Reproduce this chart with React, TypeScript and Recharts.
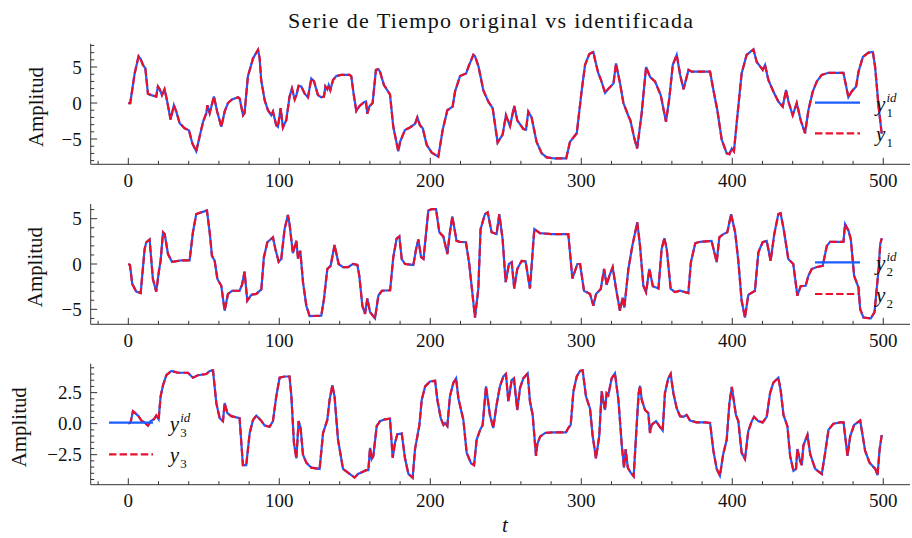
import React from 'react';
import { LineChart, Line, XAxis, YAxis } from 'recharts';

// ---------------- data ----------------
// [t, value] pairs for the original series of each output
const y1Series: [number, number][] = [
  [0, 0], [1.3, 0], [4.2, 4.1], [6.8, 6.5], [8.2, 6.1], [9.7, 5.3], [11.3, 4.8], [13, 1.3], [15.2, 1.1],
  [18.5, 0.9], [19.6, 2.3], [20.8, 1.9], [22.3, 1.1], [24, 1.9], [25.6, 0.4], [28, -2.3], [30.2, -0.3],
  [31.8, -1.2], [34, -2.8], [37.3, -3.5], [40.2, -3.8], [42.4, -5.6], [45, -6.7], [47.2, -4.7], [49.5, -2.6],
  [51.7, -1.4], [52.4, -0.3], [53.9, -1.4], [56.7, 0.9], [58.9, -1.2], [61.6, -3.3], [63.8, -1.2], [66, 0],
  [68.7, 0.5], [72.7, 0.8], [73.8, 0.6], [76, -1.7], [77, -1.4], [79.2, 3.7], [82.6, 6.2], [85.9, 7.4],
  [87, 6.2], [88, 3.2], [90.3, 0.4], [92.5, -1.0], [94.7, -1.7], [95.8, -1.2], [98, -3.1], [99.1, -3.3],
  [100.9, -0.7], [102.4, -3.4], [104.6, -2.4], [106.8, 0.9], [108.4, 2.0], [110.2, 0.5], [111.3, 1.1],
  [112.8, 2.4], [114.6, 2.3], [116.8, 1.3], [119, 0.8], [121.2, 3.4], [123, 3.0], [125.6, 1.1], [127.8, 0.8],
  [129.6, 0.9], [130.5, 2.3], [131.8, 1.9], [132.7, 2.5], [133.8, 1.8], [135.6, 3.2], [137.7, 3.75],
  [141, 3.9], [146.6, 3.9], [147.7, 3.7], [149.2, 1.3], [151, -1.1], [153.2, -0.4], [156, 0.1], [157.4, 0.2],
  [158.3, -1.5], [159.6, -0.5], [161.8, 0], [164, 4.6], [165.6, 4.7], [166.7, 4.35], [169.3, 2.5],
  [173.3, 1.2], [175.5, -3.3], [178.8, -6.7], [180, -5.4], [183.2, -3.75], [186.5, -3.4], [189.9, -2.9],
  [191.4, -2.0], [193.2, -3.1], [195, -3.5], [197.6, -5.8], [201, -6.9], [205.3, -7.45], [208.2, -3.75],
  [211.3, -1.0], [214.8, -0.5], [216.4, 1.6], [219.7, 3.75], [223.7, 4.1], [225.2, 5.0], [228.5, 6.7],
  [229.6, 6.5], [231.9, 5.1], [235.1, 1.8], [238.4, 0.2], [241.3, -0.7], [244.6, -5.5], [247.9, -4.4],
  [250.1, -1.7], [252.8, -3.2], [255.6, -0.4], [257.6, -2.4], [261.6, -3.6], [263.4, -3.7], [264.9, -1.2],
  [267.1, -2.0], [270.4, -5.4], [273.8, -7.0], [277.1, -7.55], [282.6, -7.7], [290, -7.7], [292.5, -5.4],
  [297, -4.2], [300.3, 1.8], [302.5, 5.3], [305.3, 6.8], [308, 7.1], [309.1, 6.0], [311.3, 4.1], [312.9, 3.3],
  [315.8, 1.4], [318, 2.0], [321.3, 2.7], [323, 5.5], [325.7, 2.7], [327.9, 0], [331.2, -1.8], [332.5, -2.4],
  [335, -4.8], [337, -6.3], [340, -1.4], [342.9, 5.0], [345.6, 3.6], [348.8, 3.0], [352.6, 1.1], [356.1, -2.6],
  [358.3, 0.65], [360.6, 5.3], [363.2, 6.7], [365.5, 3.9], [367.7, 1.9], [371, 4.6], [373.1, 4.35],
  [385.3, 4.35], [387.5, 1.8], [390.1, -1.0], [393, -5.1], [396.3, -7.0], [398.1, -7.1], [399.7, -6.3],
  [401.1, -6.7], [402.9, -2.8], [406.2, 4.1], [409.5, 6.7], [414, 7.45], [416.2, 5.7], [420.2, 4.6],
  [421.7, 5.3], [423.9, 3.2], [427.2, 1.6], [430.5, 0.2], [433.4, -0.5], [435.6, 1.8], [437.2, 0.2],
  [440, -1.7], [442.7, 0], [445.3, -2.4], [448.2, -4.2], [450.4, -1.0], [453.3, 1.6], [456, 3.0], [459.2, 3.9],
  [463.7, 4.2], [473.6, 4.2], [476.9, 0.8], [479.1, 1.6], [482, 2.3], [483.6, 4.35], [486.5, 6.4],
  [490.2, 7.0], [493.1, 7.1], [494.6, 5.0], [496.9, -0.5], [499, -4.3],
];

const y2Series: [number, number][] = [
  [0, 0], [1.1, -0.1], [2.6, -2.2], [5.3, -3.05], [8.2, -3.2], [10.8, 1.65], [11.9, 2.4], [14.1, 2.7],
  [16.3, -1.65], [18.5, -3.05], [20.3, -0.75], [21.4, 0.35], [23, 3.5], [24.1, 3.3], [26.3, 1.1], [28.9, 0.25],
  [31.1, 0.3], [35.1, 0.4], [40.6, 0.4], [42.8, 3.5], [45, 5.5], [48.3, 5.7], [52.1, 5.9], [53.9, 3.5],
  [55.4, 0.9], [57.2, 0.35], [59, -1.65], [61.6, -2.4], [63.8, -5.15], [66, -3.3], [68.7, -2.95],
  [73.7, -2.95], [75.3, -2.3], [77, -0.85], [78.8, -4.05], [81.5, -3.4], [84.8, -3.3], [88.1, -2.8],
  [89.8, 0.75], [92.1, 2.4], [95.8, 2.95], [97.4, 1.65], [99.6, 0.25], [101.3, 0.55], [103.5, 3.85],
  [105.7, 5.4], [106.8, 4.4], [109, 1.2], [111.3, 2.55], [112.4, 0.6], [113.9, 1.45], [115.7, -2.0],
  [117.9, -4.6], [120.1, -5.75], [127.8, -5.7], [129.6, -3.85], [131.8, -0.55], [134, -0.2], [136.6, 2.1],
  [139.3, 0], [142.2, -0.35], [145.5, -0.35], [148.8, 0], [151.7, -0.1], [153, -1.3], [155, -4.6],
  [156.8, -5.5], [158.3, -3.8], [160.1, -5.3], [163.4, -6.0], [165.6, -3.5], [167.9, -2.95], [173.4, -2.9],
  [175.5, 0.75], [177.7, 2.8], [179.5, 3.05], [181.1, 0.55], [183.3, 0], [188.8, -0.1], [190.6, 1.65],
  [192.1, 2.7], [193.9, 0.75], [195.5, 0.55], [198.7, 5.9], [200.9, 6.05], [203.8, 6.05], [206, 3.5],
  [208.6, 3.05], [211.3, 1.1], [213, 3.5], [214.6, 5.25], [217.4, 2.55], [219.6, 2.45], [223.6, 2.4],
  [225.8, 0], [229.6, -5.9], [231.8, -2.75], [233.3, 3.85], [236.2, 5.5], [238, 5.7], [240.6, 3.5],
  [243.9, 3.3], [245.7, 5.5], [247.9, 2.75], [249.9, -2.0], [252.1, 0], [253.9, 0.2], [255.6, -2.7],
  [257.6, -0.55], [260.5, 0.35], [263.1, 0.3], [266, -2.7], [268.9, 3.85], [272.6, 3.4], [280.4, 3.3],
  [291.4, 3.3], [294.1, -1.6], [297.4, 0], [299.2, 0], [301.8, -2.95], [305.8, -3.3], [308, -4.6],
  [309.8, -3.3], [312.9, -2.75], [315.1, -0.55], [316.8, -2.3], [318.6, -1.3], [320.8, -0.35], [323, -2.7],
  [325.6, -5.15], [327.4, -3.7], [328.5, -4.8], [331.2, -0.55], [333.8, 2.0], [337.1, 4.6], [338.9, 2.0],
  [341.1, -2.4], [342.9, -3.1], [345.1, -0.55], [347.4, -2.45], [351.1, -2.7], [353.2, 1.65], [355, 2.85],
  [356.6, 1.65], [359.2, -2.75], [362.1, -3.1], [365.4, -2.95], [370.9, -3.2], [372.6, 0.2], [375.5, 2.3],
  [378.7, 2.45], [386.3, 2.55], [389.7, 0.2], [391.4, 2.95], [394.1, 3.3], [396.7, 3.5], [399.2, 5.5],
  [401.9, 3.5], [404, 0.35], [406.2, -4.05], [408.4, -5.9], [410.6, -3.4], [415, -2.95], [417.3, 1.3],
  [420.1, 2.4], [422.8, 2.55], [425.4, 0.35], [427.8, 3.3], [430.5, 5.5], [432, 5.6], [434.2, 3.7],
  [437.1, 0.55], [440.4, 0], [443.1, -3.5], [445.3, -2.45], [448.6, -2.4], [450.4, -1.3], [452.6, -0.55],
  [455.5, -0.35], [459.9, -0.2], [462.6, 2.0], [464.8, 2.45], [473.6, 2.45], [474.7, 4.4], [476.9, 3.7],
  [478.5, 2.75], [480.7, -1.3], [483.6, -2.6], [484.7, -5.0], [486.9, -5.9], [491.8, -6.0], [494.2, -5.3],
  [496.9, -0.55], [498, 2.2], [499, 2.85],
];

const y3Series: [number, number][] = [
  [0, 0], [1.5, 0.1], [3.1, 1.0], [4.6, 0.85], [6.8, 0.6], [8.6, 0.25], [10.8, 0.1], [13, -0.15],
  [14.8, 0.2], [17, 0.35], [18.5, 0.65], [20.1, 0.35], [21.4, 2.2], [23, 3.1], [25.2, 3.9], [28.5, 4.25],
  [32.9, 4.1], [39.5, 4.1], [42.8, 3.7], [46.1, 3.9], [51.7, 4.0], [53.9, 4.25], [56.1, 4.3], [58.3, 1.65],
  [60.5, 0.45], [62.7, 0.2], [63.8, 1.65], [65.6, 0.85], [68.2, 0.6], [73.7, 0.45], [75.9, -3.35],
  [78.1, -3.35], [80.4, -0.75], [82.6, 0.3], [84.8, 0.65], [87.6, 0.3], [90.3, -0.15], [93.6, -0.25],
  [95.8, 0.2], [98, 2.2], [100.2, 3.7], [103.5, 3.8], [106.8, 3.8], [108, 2.2], [109.7, -1.55], [111.3, -2.8],
  [112.8, 0.2], [114.1, -0.35], [115.7, -2.5], [117.9, -3.15], [121.2, -3.55], [126.7, -3.65], [129, -0.75],
  [131.8, 0.3], [133.3, 1.9], [135.1, 3.1], [136.6, 2.2], [138.9, -1.3], [142.2, -3.65], [146.6, -4.05],
  [149.9, -4.35], [152.1, -4.05], [153.9, -3.95], [157.6, -3.75], [159, -3.75], [160.1, -1.95],
  [161.2, -2.85], [162.3, -2.6], [164.5, -0.2], [166.7, 0.2], [170, 0.35], [173.3, 0.4], [175.1, -2.75],
  [176.6, -1.55], [178.2, -0.85], [181.1, -0.8], [183.2, -2.75], [185.5, -4.05], [188.3, -4.35],
  [189.9, -2.05], [192.8, -0.1], [194.3, 1.9], [196.6, 3.0], [199.8, 3.4], [203.2, 3.45], [204.7, 1.9],
  [206.9, 0.45], [208.7, -0.1], [209.7, 0.05], [211.3, -0.2], [213, 2.2], [215.3, 3.3], [217.1, 3.65],
  [218.6, 2.05], [221.9, 0.3], [224.1, -2.35], [227, -3.2], [229, -3.35], [230.7, -1.3], [233, -0.5],
  [234.7, -0.1], [236.9, 3.0], [239.5, 0.7], [241.7, -0.35], [243.9, 1.5], [246.1, 3.0], [248.4, 3.8],
  [250.1, 4.0], [251.7, 1.8], [253.9, 3.5], [255.4, 3.65], [257.6, 1.1], [259.4, 2.85], [261.6, 3.65],
  [264.5, 4.05], [266, 1.8], [267.8, 0.7], [270, -2.6], [270.9, -1.65], [272.7, -1.05], [276, -0.75],
  [281.5, -0.7], [289.9, -0.7], [291.4, -0.35], [293, -0.1], [294.8, 2.6], [297, 3.8], [299.2, 4.25],
  [300.9, 4.3], [303.1, 2.2], [305.8, 1.2], [307.5, -0.95], [309.7, -2.8], [311.9, -1.0], [313.5, 2.6],
  [314.6, 1.8], [315.7, 1.1], [316.8, 2.45], [317.9, 2.3], [320.1, 3.65], [322.3, 4.05], [324.6, 1.9],
  [326.8, -1.7], [328.3, -3.55], [329.4, -2.05], [330.8, -3.55], [332.7, -3.95], [334.7, -4.25],
  [336.4, -0.7], [338, 2.45], [338.9, 3.05], [340, 1.95], [342.2, 1.1], [344.4, 0.85], [345.5, -0.75],
  [346.6, -0.1], [349.5, 0.2], [351.7, -0.2], [353.9, -0.55], [355.4, 2.45], [357.6, 3.65], [359.2, 4.0],
  [361, 2.45], [363.2, 1.25], [365.4, 0.6], [367.6, 0.55], [369.8, 0.7], [372, 0.25], [376.4, 0.1],
  [381.9, 0.1], [385.3, 0.05], [387.5, -2.2], [389.7, -3.65], [391.8, -4.2], [394, -2.45], [396.3, -1.3],
  [398.1, 1.65], [399.7, 2.95], [402.4, 0.7], [404, 0.2], [406.2, -2.35], [408.4, -2.85], [410.6, -0.6],
  [412.9, 0.2], [414.4, 0.55], [417.3, 0.2], [420.1, 0.1], [422.8, 0.55], [425, 2.45], [427.2, 3.3],
  [430.5, 3.7], [432.1, 2.65], [433.9, 0.7], [436.5, -0.2], [438.3, -2.6], [440.5, -3.8], [442.2, -3.65],
  [443.1, -2.05], [444.9, -3.0], [446, -3.35], [447.1, -1.75], [449.8, -0.9], [451.6, -2.45], [454.9, -3.65],
  [459.3, -4.05], [461.5, -2.35], [463.7, -0.5], [467, 0], [471.5, 0.1], [473.7, 0.1], [476.3, -2.6],
  [478.1, -1.0], [480.7, -0.1], [484.7, 0.25], [488, -2.2], [490.9, -3.15], [494.7, -3.65], [496.2, -4.15],
  [497.6, -2.05], [499, -0.9],
];

// identified series: in the picture they lie on top of the originals
const y1IdSeries = y1Series;
const y2IdSeries = y2Series;
const y3IdSeries = y3Series;

// ticks
const xMajorTicks = [0, 100, 200, 300, 400, 500];
const xMinorTicks = [-20, 20, 40, 60, 80, 120, 140, 160, 180, 220, 240, 260, 280, 320, 340, 360, 380, 420, 440, 460, 480];
const y1MajorTicks = [-5, 0, 5];
const y1MajorLabels = ['\u22125', '0', '5'];
const y1MinorTicks = [-8, -7, -6, -4, -3, -2, -1, 1, 2, 3, 4, 6, 7, 8];
const y2MajorTicks = [-5, 0, 5];
const y2MajorLabels = ['\u22125', '0', '5'];
const y2MinorTicks = [-6, -4, -3, -2, -1, 1, 2, 3, 4, 6];
const y3MajorTicks = [-2.5, 0, 2.5];
const y3MajorLabels = ['\u22122.5', '0.0', '2.5'];
const y3MinorTicks = [-4.5, -4, -3.5, -3, -2, -1.5, -1, -0.5, 0.5, 1, 1.5, 2, 3, 3.5, 4, 4.5];

const TITLE = 'Serie de Tiempo original vs identificada';
const Y_LABEL = 'Amplitud';
const X_LABEL = 't';

// ---------------- styling ----------------
const W = 912;
const H = 538;
const PLOT_LEFT = 90.7;
const PLOT_RIGHT = 910;
const X_DOMAIN: [number, number] = [-24.9, 517.7];
const SERIF = '"Liberation Serif", "DejaVu Serif", serif';
const AXIS = '#333';
const BLUE = '#1a5cff';
const RED = '#e8112d';
const MAJOR_LEN = 6.5;
const MINOR_LEN = 3.5;
const TICK_FONT = 19;

type Panel = {
  id: string;
  top: number;
  bottom: number;
  domain: [number, number];
  orig: [number, number][];
  ident: [number, number][];
  major: number[];
  majorLabels: string[];
  minor: number[];
  ylabelX: number;
  legend: { x1: number; x2: number; yBlue: number; yRed: number; labelX: number; sub: string };
};

const panels: Panel[] = [
  {
    id: 'p1', top: 43.7, bottom: 164.3, domain: [-8.51, 8.24], orig: y1Series, ident: y1IdSeries,
    major: y1MajorTicks, majorLabels: y1MajorLabels, minor: y1MinorTicks, ylabelX: 42.5,
    legend: { x1: 815, x2: 860, yBlue: 102.7, yRed: 133.3, labelX: 876, sub: '1' },
  },
  {
    id: 'p2', top: 204, bottom: 324.3, domain: [-6.65, 6.62], orig: y2Series, ident: y2IdSeries,
    major: y2MajorTicks, majorLabels: y2MajorLabels, minor: y2MinorTicks, ylabelX: 42.5,
    legend: { x1: 815, x2: 860, yBlue: 262.3, yRed: 294, labelX: 876, sub: '2' },
  },
  {
    id: 'p3', top: 363.7, bottom: 484.7, domain: [-4.92, 4.83], orig: y3Series, ident: y3IdSeries,
    major: y3MajorTicks, majorLabels: y3MajorLabels, minor: y3MinorTicks, ylabelX: 26,
    legend: { x1: 109, x2: 153, yBlue: 422.7, yRed: 454.3, labelX: 169.7, sub: '3' },
  },
];

const isIn = (arr: number[], v: number) => arr.some((a) => Math.abs(a - v) < 1e-9);

function PanelChart({ p }: { p: Panel }) {
  const data = p.orig.map(([t, v], i) => ({ t, y: v, yid: p.ident[i][1] }));
  const xTicks = [...xMajorTicks, ...xMinorTicks].sort((a, b) => a - b);
  const yTicks = [...p.major, ...p.minor].sort((a, b) => a - b);
  const Y_AXIS_W = 40;
  const X_AXIS_H = 30;
  const margin = {
    top: p.top,
    right: W - PLOT_RIGHT,
    bottom: H - p.bottom - X_AXIS_H,
    left: PLOT_LEFT - Y_AXIS_W,
  };

  const bottomTick = (props: any) => {
    const { x, y, payload } = props;
    const major = isIn(xMajorTicks, payload.value);
    return (
      <g>
        <line x1={x} x2={x} y1={y} y2={y - (major ? MAJOR_LEN : MINOR_LEN)} stroke={AXIS} strokeWidth={1} />
        {major && (
          <text x={x} y={y + 22.5} textAnchor="middle" fontFamily={SERIF} fontSize={TICK_FONT} fill="#111">
            {String(payload.value)}
          </text>
        )}
      </g>
    );
  };
  const topTick = (props: any) => {
    const { x, y, payload } = props;
    const major = isIn(xMajorTicks, payload.value);
    return <line x1={x} x2={x} y1={y} y2={y + (major ? MAJOR_LEN : MINOR_LEN)} stroke={AXIS} strokeWidth={1} />;
  };
  const leftTick = (props: any) => {
    const { x, y, payload } = props;
    const idx = p.major.findIndex((m) => Math.abs(m - payload.value) < 1e-9);
    const major = idx >= 0;
    return (
      <g>
        <line x1={x} x2={x + (major ? MAJOR_LEN : MINOR_LEN)} y1={y} y2={y} stroke={AXIS} strokeWidth={1} />
        {major && (
          <text x={x - 9} y={y + 6.5} textAnchor="end" fontFamily={SERIF} fontSize={TICK_FONT} fill="#111">
            {p.majorLabels[idx]}
          </text>
        )}
      </g>
    );
  };
  const rightTick = (props: any) => {
    const { x, y, payload } = props;
    const major = isIn(p.major, payload.value);
    return <line x1={x} x2={x - (major ? MAJOR_LEN : MINOR_LEN)} y1={y} y2={y} stroke={AXIS} strokeWidth={1} />;
  };

  return (
    <div style={{ position: 'absolute', left: 0, top: 0 }}>
      <LineChart width={W} height={H} data={data} margin={margin}>
        <XAxis
          xAxisId="b" dataKey="t" type="number" domain={X_DOMAIN} allowDataOverflow ticks={xTicks} interval={0}
          orientation="bottom" height={X_AXIS_H} tickSize={0} tickMargin={0} tickLine={false}
          axisLine={{ stroke: AXIS, strokeWidth: 1 }} tick={bottomTick}
        />
        <XAxis
          xAxisId="t" dataKey="t" type="number" domain={X_DOMAIN} allowDataOverflow ticks={xTicks} interval={0}
          orientation="top" height={0} tickSize={0} tickMargin={0} tickLine={false}
          axisLine={{ stroke: AXIS, strokeWidth: 1 }} tick={topTick}
        />
        <YAxis
          yAxisId="l" type="number" domain={p.domain} allowDataOverflow ticks={yTicks} interval={0}
          orientation="left" width={Y_AXIS_W} tickSize={0} tickMargin={0} tickLine={false}
          axisLine={{ stroke: AXIS, strokeWidth: 1 }} tick={leftTick}
        />
        <YAxis
          yAxisId="r" type="number" domain={p.domain} allowDataOverflow ticks={yTicks} interval={0}
          orientation="right" width={0} tickSize={0} tickMargin={0} tickLine={false}
          axisLine={{ stroke: AXIS, strokeWidth: 1 }} tick={rightTick}
        />
        <Line
          xAxisId="b" yAxisId="l" type="linear" dataKey="yid" stroke={BLUE} strokeWidth={2.2}
          dot={false} activeDot={false} isAnimationActive={false}
        />
        <Line
          xAxisId="b" yAxisId="l" type="linear" dataKey="y" stroke={RED} strokeWidth={2.2}
          strokeDasharray="7.4 3.2" dot={false} activeDot={false} isAnimationActive={false}
        />
      </LineChart>
    </div>
  );
}

function MathY({ x, baseline, sub, sup }: { x: number; baseline: number; sub: string; sup?: string }) {
  return (
    <text x={x} y={baseline} fontFamily={SERIF} fontSize={21} fill="#111">
      <tspan fontStyle="italic">y</tspan>
      <tspan x={x + 10.5} y={baseline + 6} fontSize={13}>{sub}</tspan>
      {sup ? (
        <tspan x={x + 10.5} y={baseline - 9} fontSize={13} fontStyle="italic">{sup}</tspan>
      ) : null}
    </text>
  );
}

export default function App() {
  return (
    <div style={{ position: 'absolute', left: 0, top: 0, width: W, height: H, background: '#fff', overflow: 'hidden' }}>
      {panels.map((p) => (
        <PanelChart key={p.id} p={p} />
      ))}
      <svg width={W} height={H} style={{ position: 'absolute', left: 0, top: 0, pointerEvents: 'none' }}>
        <text x={490.5} y={28} textAnchor="middle" fontFamily={SERIF} fontSize={22} fill="#111"
          textLength={405} lengthAdjust="spacing">
          {TITLE}
        </text>
        <text x={505} y={532} textAnchor="middle" fontFamily={SERIF} fontSize={21} fontStyle="italic" fill="#111">
          {X_LABEL}
        </text>
        {panels.map((p) => {
          const cy = (p.top + p.bottom) / 2 + 3;
          const L = p.legend;
          return (
            <g key={p.id}>
              <text x={p.ylabelX} y={cy} transform={`rotate(-90, ${p.ylabelX}, ${cy})`} textAnchor="middle"
                fontFamily={SERIF} fontSize={20} fill="#111" textLength={80} lengthAdjust="spacingAndGlyphs">
                {Y_LABEL}
              </text>
              <line x1={L.x1} x2={L.x2} y1={L.yBlue} y2={L.yBlue} stroke={BLUE} strokeWidth={2.2} />
              <line x1={L.x1} x2={L.x2} y1={L.yRed} y2={L.yRed} stroke={RED} strokeWidth={2.2} strokeDasharray="7.4 3.2" />
              <MathY x={L.labelX} baseline={L.yBlue + 8} sub={L.sub} sup="id" />
              <MathY x={L.labelX} baseline={L.yRed + 8} sub={L.sub} />
            </g>
          );
        })}
      </svg>
    </div>
  );
}
